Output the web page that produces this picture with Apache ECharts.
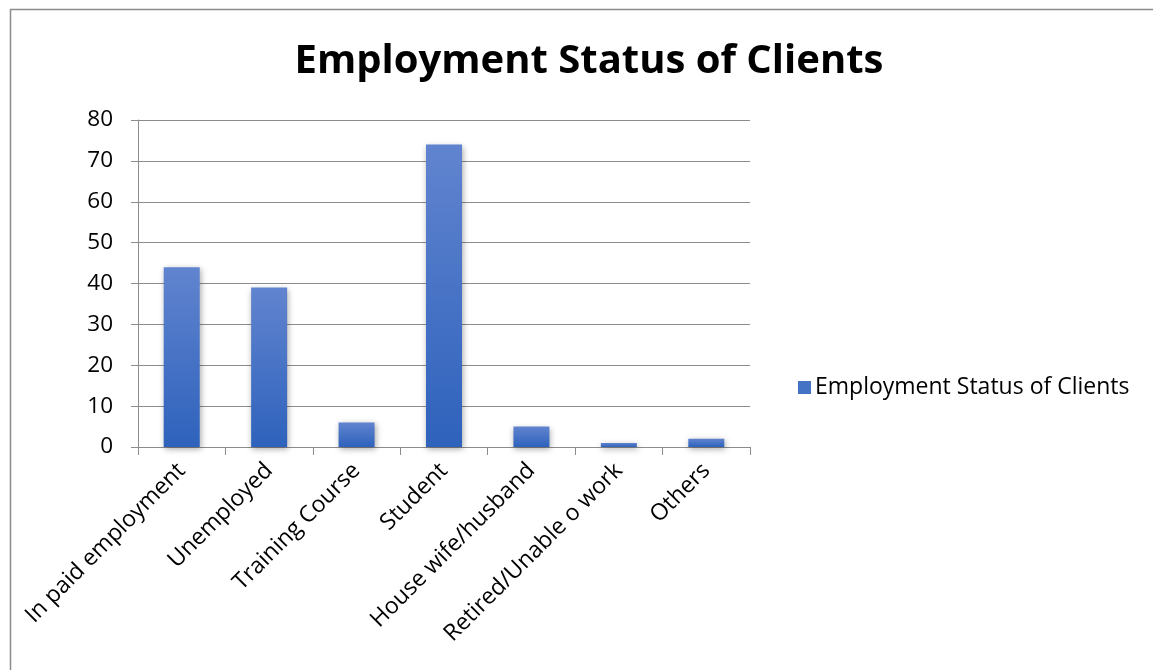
<!DOCTYPE html>
<html><head><meta charset="utf-8">
<script src="https://cdn.jsdelivr.net/npm/echarts@6/dist/echarts.min.js"></script>
<style>html,body{margin:0;padding:0;background:#fff}#c{width:1153px;height:670px}</style>
</head><body><div id="c"></div>
<script>
const titleText = 'Employment Status of Clients';
const seriesName = 'Employment Status of Clients';
const categories = ['In paid employment','Unemployed','Training Course','Student','House wife/husband','Retired/Unable o work','Others'];
const values = [44, 39, 6, 74, 5, 1, 2];
const yTicks = {min: 0, max: 80, interval: 10};

const font = '"Open Sans", sans-serif';
const chart = echarts.init(document.getElementById('c'), null, {renderer: 'canvas'});
const barColor = new echarts.graphic.LinearGradient(0, 0, 0, 1, [
  {offset: 0, color: '#6184cf'},
  {offset: 1, color: '#2e62bc'}
]);
chart.setOption({
  animation: false,
  backgroundColor: '#fff',
  graphic: [{
    type: 'rect', left: 8, top: 7, shape: {width: 1160, height: 680},
    style: {fill: 'none', stroke: '#8c8c8c', lineWidth: 1.5}, silent: true
  }],
  title: {
    text: titleText, left: 584, top: 37, textAlign: 'center',
    textStyle: {fontFamily: font, fontSize: 40, fontWeight: 'bold', color: '#000'}
  },
  legend: {
    left: 793, top: 371, itemWidth: 13, itemHeight: 13, itemGap: 8,
    icon: 'rect',
    textStyle: {fontFamily: font, fontSize: 23, color: '#000', padding: [0,0,0,-1]},
    data: [{name: seriesName, itemStyle: {color: '#4472c4'}}]
  },
  grid: {left: 138, right: 403, top: 120, bottom: 223, containLabel: false},
  xAxis: {
    type: 'category', data: categories,
    axisLine: {show: true, lineStyle: {color: '#8c8c8c', width: 1}},
    axisTick: {show: true, length: 8, alignWithLabel: false, lineStyle: {color: '#8c8c8c'}},
    axisLabel: {rotate: 45, interval: 0, margin: 20, fontFamily: font, fontSize: 23, color: '#000'}
  },
  yAxis: {
    type: 'value', min: yTicks.min, max: yTicks.max, interval: yTicks.interval,
    axisLine: {show: true, lineStyle: {color: '#8c8c8c', width: 1}},
    axisTick: {show: true, length: 7, lineStyle: {color: '#8c8c8c'}},
    axisLabel: {margin: 25, fontFamily: font, fontSize: 22.5, color: '#000'},
    splitLine: {show: true, lineStyle: {color: '#8c8c8c', width: 1}}
  },
  series: [{
    name: seriesName, type: 'bar', data: values, barWidth: 36,
    itemStyle: {color: barColor, shadowBlur: 6, shadowColor: 'rgba(0,0,0,0.35)', shadowOffsetX: 1, shadowOffsetY: 2}
  }]
});
</script></body></html>
